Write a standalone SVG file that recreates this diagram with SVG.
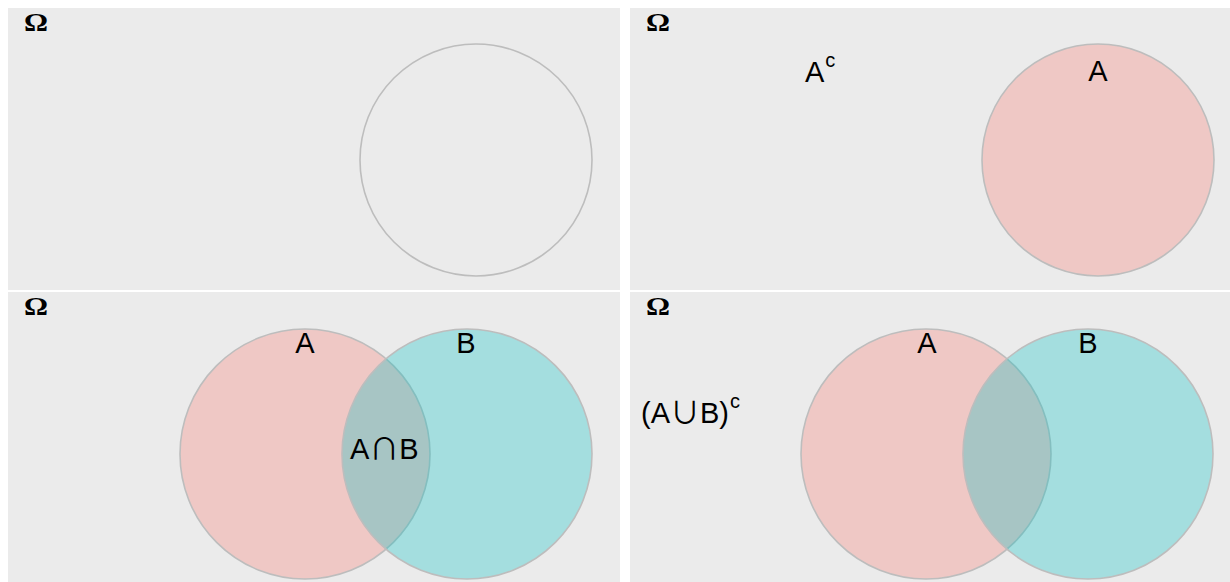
<svg xmlns="http://www.w3.org/2000/svg" width="1230" height="582" viewBox="0 0 1230 582">
  <style>
    .panel { fill: #ebebeb; }
    .ring { stroke: #bdbdbd; stroke-width: 1.6; }
    .empty { fill: none; }
    .setA { fill: #f8766d; fill-opacity: 0.3; }
    .setB { fill: #00bfc4; fill-opacity: 0.3; }
    .omega { font-family: "Liberation Serif", "DejaVu Serif", serif; font-size: 26px; font-weight: bold; fill: #000; }
    .lbl { font-family: "Liberation Sans", Arial, sans-serif; font-size: 29px; fill: #000; }
    .op { font-family: "Noto Sans CJK SC", "DejaVu Sans", sans-serif; font-size: 30px; }
    .sup { font-size: 20px; }
  </style>
  <rect width="1230" height="582" fill="#ffffff"/>

  <!-- panel 1: empty sample space -->
  <g id="panel-omega">
    <rect class="panel" x="8" y="8" width="612" height="282"/>
    <text class="omega" x="24" y="31" textLength="24" lengthAdjust="spacingAndGlyphs">Ω</text>
    <circle class="ring empty" cx="476" cy="160" r="116"/>
  </g>

  <!-- panel 2: A and its complement -->
  <g id="panel-complement">
    <rect class="panel" x="630" y="8" width="600" height="282"/>
    <text class="omega" x="646" y="31" textLength="24" lengthAdjust="spacingAndGlyphs">Ω</text>
    <circle class="ring setA" cx="1098" cy="160" r="116"/>
    <text class="lbl" x="1098" y="81" text-anchor="middle">A</text>
    <text class="lbl" x="805" y="82">A<tspan class="sup" dx="1" dy="-15">c</tspan></text>
  </g>

  <!-- panel 3: intersection -->
  <g id="panel-intersection">
    <rect class="panel" x="8" y="292" width="612" height="290"/>
    <text class="omega" x="24" y="315" textLength="24" lengthAdjust="spacingAndGlyphs">Ω</text>
    <circle class="ring setA" cx="305" cy="454" r="125"/>
    <circle class="ring setB" cx="467" cy="454" r="125"/>
    <text class="lbl" x="305" y="353" text-anchor="middle">A</text>
    <text class="lbl" x="466" y="353" text-anchor="middle">B</text>
    <text class="lbl" x="350" y="459">A<tspan class="op">∩</tspan>B</text>
  </g>

  <!-- panel 4: complement of the union -->
  <g id="panel-union-complement">
    <rect class="panel" x="630" y="292" width="600" height="290"/>
    <text class="omega" x="646" y="315" textLength="24" lengthAdjust="spacingAndGlyphs">Ω</text>
    <circle class="ring setA" cx="926" cy="454" r="125"/>
    <circle class="ring setB" cx="1088" cy="454" r="125"/>
    <text class="lbl" x="927" y="353" text-anchor="middle">A</text>
    <text class="lbl" x="1088" y="353" text-anchor="middle">B</text>
    <text class="lbl" x="641" y="423">(A<tspan class="op">∪</tspan>B)<tspan class="sup" dx="1" dy="-15">c</tspan></text>
  </g>

  <g id="connectors"></g>
</svg>
